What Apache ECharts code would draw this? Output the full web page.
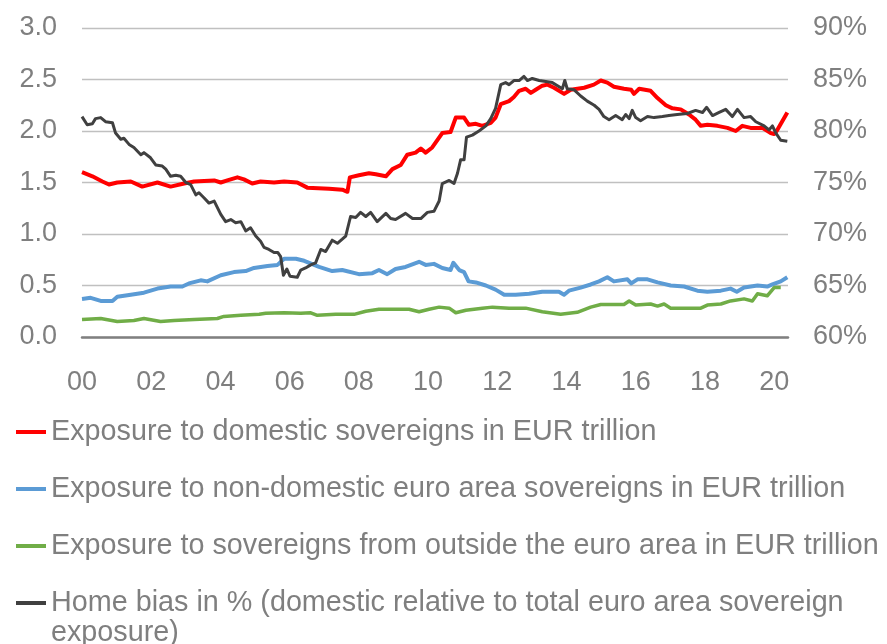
<!DOCTYPE html>
<html>
<head>
<meta charset="utf-8">
<script src="https://cdn.jsdelivr.net/npm/echarts@6/dist/echarts.min.js"></script>
<style>
html,body{margin:0;padding:0;background:#fff;}
#chart{width:887px;height:644px;}
</style>
</head>
<body>
<div id="chart"></div>
<script>
// ---- data: [year, value] ----
const seriesNames = [
  'Exposure to domestic sovereigns in EUR trillion',
  'Exposure to non-domestic euro area sovereigns in EUR trillion',
  'Exposure to sovereigns from outside the euro area in EUR trillion',
  'Home bias in % (domestic relative to total euro area sovereign exposure)'
];
const xTickYears = [2000, 2002, 2004, 2006, 2008, 2010, 2012, 2014, 2016, 2018, 2020];

const domestic = [
  [2000.00,1.60],[2000.30,1.56],[2000.59,1.51],[2000.78,1.48],[2001.02,1.50],[2001.41,1.51],
  [2001.74,1.46],[2002.18,1.50],[2002.56,1.46],[2002.95,1.49],[2003.24,1.51],[2003.82,1.52],
  [2004.01,1.50],[2004.20,1.52],[2004.49,1.55],[2004.68,1.53],[2004.92,1.49],[2005.16,1.51],
  [2005.55,1.50],[2005.84,1.51],[2006.22,1.50],[2006.51,1.45],[2007.14,1.44],[2007.52,1.43],
  [2007.67,1.41],[2007.74,1.55],[2008.00,1.57],[2008.29,1.59],[2008.49,1.58],[2008.78,1.56],
  [2008.97,1.63],[2009.21,1.67],[2009.40,1.77],[2009.64,1.79],[2009.79,1.83],[2009.93,1.79],
  [2010.12,1.84],[2010.41,1.98],[2010.65,1.99],[2010.80,2.13],[2011.04,2.13],[2011.18,2.06],
  [2011.38,2.07],[2011.57,2.05],[2011.81,2.08],[2011.95,2.13],[2012.10,2.26],[2012.34,2.29],
  [2012.48,2.33],[2012.63,2.39],[2012.82,2.41],[2012.97,2.37],[2013.11,2.40],[2013.30,2.44],
  [2013.45,2.45],[2013.64,2.42],[2013.93,2.36],[2014.12,2.40],[2014.51,2.42],[2014.79,2.45],
  [2014.99,2.49],[2015.18,2.47],[2015.37,2.43],[2015.66,2.41],[2015.87,2.40],[2015.95,2.36],
  [2016.10,2.41],[2016.43,2.39],[2016.63,2.32],[2016.87,2.25],[2017.06,2.22],[2017.30,2.21],
  [2017.54,2.16],[2017.73,2.11],[2017.88,2.05],[2018.07,2.06],[2018.36,2.05],[2018.65,2.03],
  [2018.89,2.00],[2019.08,2.05],[2019.32,2.03],[2019.66,2.03],[2019.90,1.98],[2020.00,1.97],
  [2020.09,2.01],[2020.38,2.18]
];

const nonDomestic = [
  [2000.00,0.37],[2000.25,0.38],[2000.54,0.35],[2000.88,0.35],[2001.02,0.39],[2001.41,0.41],
  [2001.79,0.43],[2002.18,0.47],[2002.56,0.49],[2002.90,0.49],[2003.09,0.52],[2003.43,0.55],
  [2003.62,0.54],[2004.01,0.60],[2004.39,0.63],[2004.73,0.64],[2004.97,0.67],[2005.36,0.69],
  [2005.65,0.70],[2005.84,0.76],[2006.18,0.76],[2006.42,0.74],[2006.85,0.68],[2007.23,0.64],
  [2007.52,0.65],[2008.00,0.61],[2008.39,0.62],[2008.58,0.65],[2008.82,0.61],[2009.06,0.66],
  [2009.35,0.68],[2009.74,0.73],[2009.93,0.70],[2010.17,0.71],[2010.41,0.67],[2010.65,0.65],
  [2010.73,0.72],[2010.90,0.65],[2011.04,0.63],[2011.17,0.54],[2011.38,0.53],[2011.67,0.50],
  [2011.95,0.46],[2012.20,0.41],[2012.53,0.41],[2012.92,0.42],[2013.30,0.44],[2013.78,0.44],
  [2013.93,0.41],[2014.07,0.45],[2014.41,0.48],[2014.70,0.51],[2014.94,0.54],[2015.18,0.58],
  [2015.37,0.54],[2015.76,0.56],[2015.87,0.52],[2016.05,0.56],[2016.34,0.56],[2016.63,0.53],
  [2017.01,0.50],[2017.40,0.49],[2017.78,0.45],[2018.07,0.44],[2018.46,0.45],[2018.74,0.47],
  [2018.92,0.44],[2019.13,0.48],[2019.52,0.50],[2019.80,0.49],[2019.95,0.51],[2020.19,0.54],
  [2020.38,0.58]
];

const outsideEA = [
  [2000.00,0.17],[2000.54,0.18],[2001.02,0.15],[2001.50,0.16],[2001.79,0.18],[2002.27,0.15],
  [2002.66,0.16],[2003.24,0.17],[2003.91,0.18],[2004.10,0.20],[2004.59,0.21],[2005.12,0.22],
  [2005.31,0.23],[2005.84,0.235],[2006.32,0.23],[2006.61,0.235],[2006.80,0.21],[2007.33,0.22],
  [2007.86,0.22],[2008.20,0.25],[2008.58,0.27],[2009.06,0.27],[2009.45,0.27],[2009.74,0.245],
  [2010.03,0.27],[2010.32,0.29],[2010.61,0.28],[2010.80,0.235],[2011.09,0.26],[2011.57,0.28],
  [2011.86,0.29],[2012.34,0.28],[2012.82,0.28],[2013.30,0.245],[2013.83,0.22],[2014.31,0.24],
  [2014.70,0.29],[2014.99,0.315],[2015.37,0.315],[2015.66,0.315],[2015.81,0.35],[2016.00,0.31],
  [2016.43,0.32],[2016.63,0.30],[2016.82,0.32],[2017.01,0.28],[2017.40,0.28],[2017.88,0.28],
  [2018.07,0.31],[2018.46,0.32],[2018.74,0.35],[2019.13,0.37],[2019.37,0.35],[2019.52,0.42],
  [2019.80,0.40],[2020.00,0.48],[2020.19,0.48]
];

const homeBias = [
  [2000.00,81.4],[2000.15,80.6],[2000.30,80.7],[2000.39,81.2],[2000.54,81.3],[2000.68,80.9],
  [2000.88,80.8],[2000.97,79.8],[2001.12,79.2],[2001.21,79.3],[2001.36,78.7],[2001.50,78.4],
  [2001.70,77.7],[2001.79,77.9],[2001.98,77.4],[2002.13,76.7],[2002.32,76.6],[2002.42,76.3],
  [2002.56,75.6],[2002.71,75.7],[2002.85,75.6],[2003.00,75.0],[2003.14,74.8],[2003.29,73.8],
  [2003.38,74.0],[2003.53,73.5],[2003.67,73.0],[2003.82,73.2],[2004.01,71.9],[2004.15,71.2],
  [2004.30,71.4],[2004.44,71.1],[2004.59,71.2],[2004.73,70.3],[2004.87,70.6],[2005.02,69.8],
  [2005.16,69.3],[2005.26,68.7],[2005.40,68.5],[2005.55,68.2],[2005.66,68.2],[2005.74,67.8],
  [2005.82,66.0],[2005.92,66.6],[2006.01,65.9],[2006.22,65.8],[2006.32,66.5],[2006.46,66.7],
  [2006.61,67.0],[2006.75,67.2],[2006.90,68.5],[2007.04,68.3],[2007.23,69.4],[2007.38,69.1],
  [2007.52,69.5],[2007.62,69.8],[2007.76,71.7],[2007.91,71.6],[2008.05,72.1],[2008.20,71.7],
  [2008.34,72.1],[2008.53,71.2],[2008.78,72.0],[2008.92,71.5],[2009.06,71.4],[2009.35,72.0],
  [2009.55,71.5],[2009.79,71.5],[2009.98,72.1],[2010.17,72.2],[2010.32,73.2],[2010.41,74.9],
  [2010.61,75.2],[2010.75,74.9],[2010.85,75.9],[2010.94,77.2],[2011.04,77.2],[2011.11,79.4],
  [2011.28,79.6],[2011.47,80.0],[2011.67,80.5],[2011.81,81.2],[2011.95,82.2],[2012.10,84.5],
  [2012.24,84.7],[2012.34,84.5],[2012.48,84.9],[2012.63,84.9],[2012.77,85.3],[2012.87,84.9],
  [2013.01,85.1],[2013.21,84.9],[2013.40,84.8],[2013.59,84.7],[2013.74,84.4],[2013.88,84.1],
  [2013.95,84.9],[2014.02,84.1],[2014.22,84.0],[2014.41,83.4],[2014.60,82.9],[2014.80,82.5],
  [2014.94,82.1],[2015.08,81.4],[2015.23,81.1],[2015.42,81.5],[2015.61,81.1],[2015.71,81.6],
  [2015.81,81.2],[2015.90,82.0],[2016.00,81.3],[2016.14,81.0],[2016.34,81.4],[2016.53,81.3],
  [2016.77,81.4],[2016.96,81.5],[2017.20,81.6],[2017.49,81.7],[2017.73,82.0],[2017.93,81.8],
  [2018.05,82.3],[2018.22,81.5],[2018.41,81.8],[2018.60,82.1],[2018.79,81.4],[2018.94,82.1],
  [2019.13,81.3],[2019.32,81.4],[2019.47,80.9],[2019.71,80.5],[2019.85,80.1],[2019.95,80.5],
  [2020.05,79.8],[2020.19,79.1],[2020.38,79.0]
];

const colors = ['#FF0000', '#5B9BD5', '#70AD47', '#404040'];
const FONT = '"Liberation Sans", Arial, sans-serif';
const GREY = '#7F7F7F';

const chart = echarts.init(document.getElementById('chart'), null, {renderer: 'canvas'});

function lineSeries(name, data, color, width, yIdx) {
  return {
    name: name, type: 'line', data: data, yAxisIndex: yIdx,
    showSymbol: false, symbol: 'none', smooth: false,
    lineStyle: {color: color, width: width, join: 'round'},
    itemStyle: {color: color},
    emphasis: {disabled: true}, animation: false
  };
}

chart.setOption({
  animation: false,
  grid: {left: 82, right: 99, top: 28, bottom: 307, containLabel: false},
  xAxis: {
    type: 'value', min: 2000, max: 2020.4, interval: 2, offset: 9,
    axisLine: {show: true, lineStyle: {color: '#808080', width: 2.5}},
    axisTick: {show: false},
    splitLine: {show: false},
    axisLabel: {
      margin: 23, color: GREY, fontSize: 27, fontFamily: FONT,
      showMaxLabel: false,
      formatter: function (v) {
        return xTickYears.indexOf(v) >= 0 ? String(v - 2000).padStart(2, '0') : '';
      }
    }
  },
  yAxis: [{
    type: 'value', min: 0, max: 3, interval: 0.5,
    axisLine: {show: false}, axisTick: {show: false},
    splitLine: {show: true, lineStyle: {color: '#C0C0C0', width: 1.3}},
    axisLabel: {margin: 25, color: GREY, fontSize: 27, fontFamily: FONT,
      formatter: function (v) { return v.toFixed(1); }}
  }, {
    type: 'value', min: 60, max: 90, interval: 5, position: 'right',
    axisLine: {show: false}, axisTick: {show: false},
    splitLine: {show: false},
    axisLabel: {margin: 25, color: GREY, fontSize: 27, fontFamily: FONT,
      formatter: '{value}%'}
  }],
  legend: {
    orient: 'vertical', left: 16, top: 417, itemGap: 27, padding: 0,
    itemWidth: 30, itemHeight: 4, icon: 'rect',
    selectedMode: false,
    data: seriesNames,
    textStyle: {color: GREY, fontSize: 28.75, fontFamily: FONT, lineHeight: 30},
    formatter: function (name) {
      return name === seriesNames[3]
        ? 'Home bias in % (domestic relative to total euro area sovereign'
        : name;
    }
  },
  graphic: [{
    type: 'text', left: 51, top: 619, silent: true,
    style: {text: 'exposure)', fill: GREY, font: '28.75px ' + FONT}
  }],
  series: [
    lineSeries(seriesNames[0], domestic, colors[0], 4, 0),
    lineSeries(seriesNames[1], nonDomestic, colors[1], 4, 0),
    lineSeries(seriesNames[2], outsideEA, colors[2], 3.5, 0),
    lineSeries(seriesNames[3], homeBias, colors[3], 3, 1)
  ]
});
</script>
</body>
</html>
